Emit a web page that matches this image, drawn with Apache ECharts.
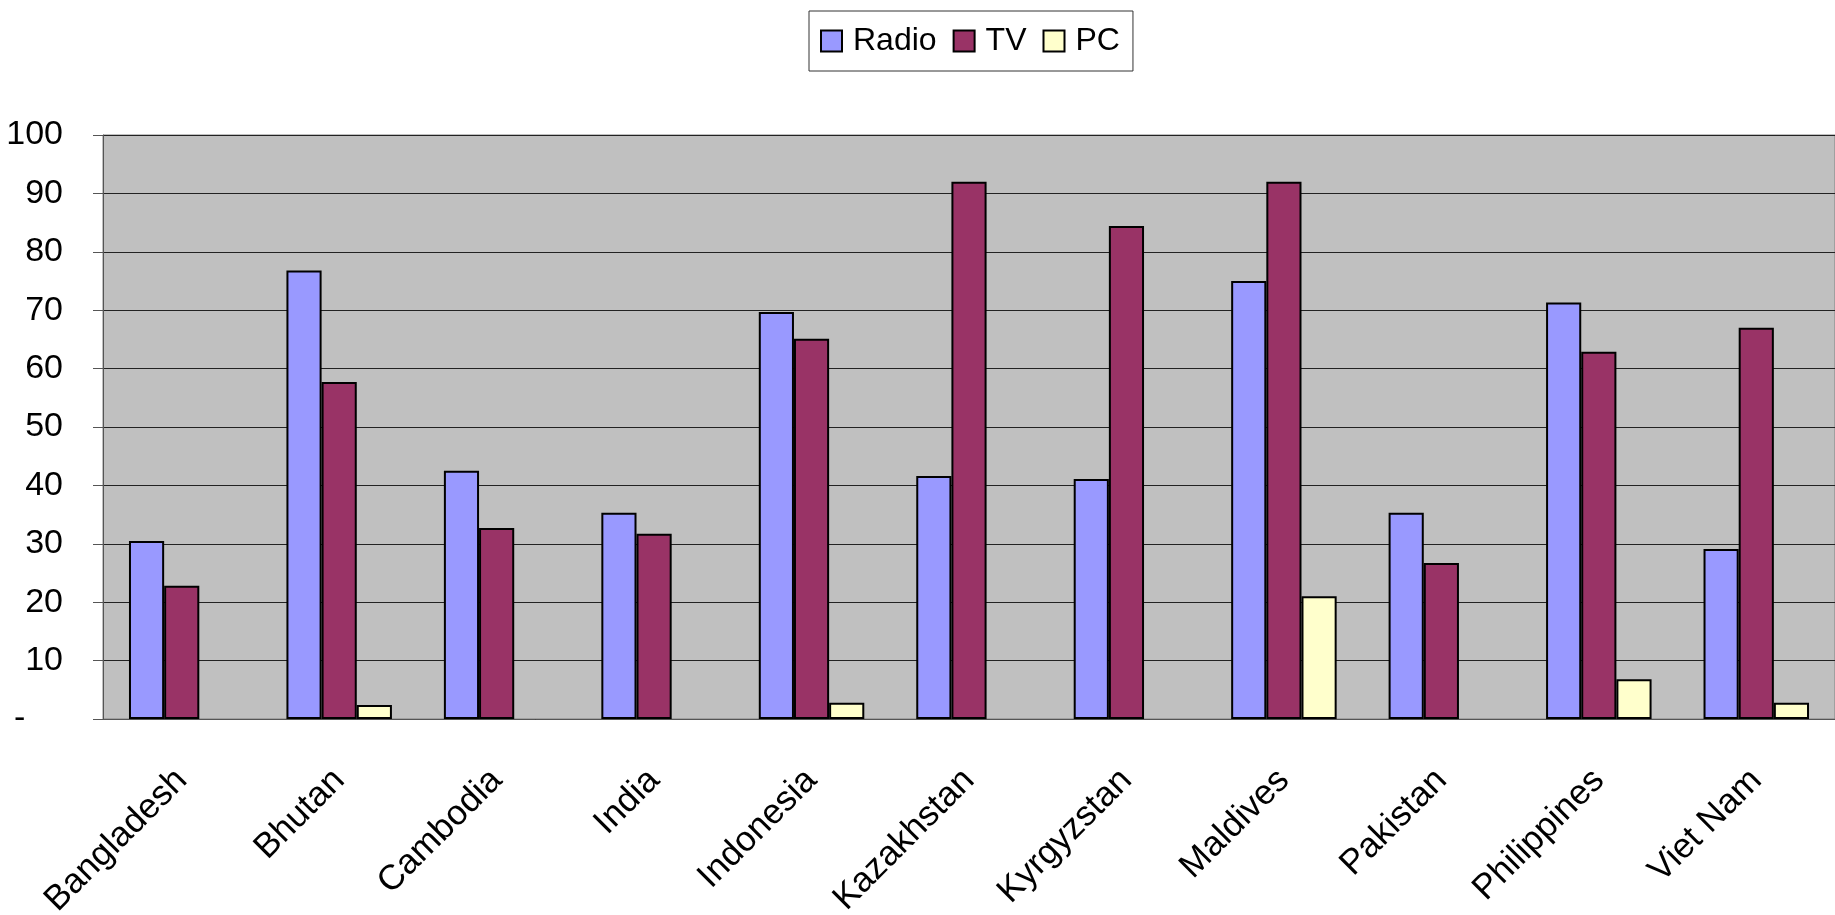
<!DOCTYPE html>
<html>
<head>
<meta charset="utf-8">
<script src="https://cdn.jsdelivr.net/npm/echarts@6/dist/echarts.min.js"></script>
<style>
  html, body { margin: 0; padding: 0; background: #fff; }
  #chart { width: 1835px; height: 915px; }
</style>
</head>
<body>
<div id="chart"></div>
<script>
// data (null = no bar drawn)
const countries = ['Bangladesh', 'Bhutan', 'Cambodia', 'India', 'Indonesia', 'Kazakhstan',
  'Kyrgyzstan', 'Maldives', 'Pakistan', 'Philippines', 'Viet Nam'];
const radio = [30.5, 76.8, 42.5, 35.3, 69.7, 41.6, 41.1, 75.0, 35.3, 71.3, 29.1];
const tv = [22.8, 57.7, 32.7, 31.7, 65.1, 92.0, 84.4, 92.0, 26.7, 62.9, 67.0];
const pc = [null, 2.4, null, null, 2.8, null, null, 21.0, null, 6.8, 2.8];
const seriesNames = ['Radio', 'TV', 'PC'];
const colors = ['#9999FF', '#993366', '#FFFFCC'];

const font = 'Liberation Sans, Arial, sans-serif';
const chart = echarts.init(document.getElementById('chart'));

function makeBar(name, values, color) {
  return {
    name: name,
    type: 'bar',
    data: values,
    barGap: '0%',
    barCategoryGap: '33%',
    itemStyle: { color: color, borderColor: '#000', borderWidth: 2 },
    emphasis: { disabled: true }
  };
}

const option = {
  animation: false,
  textStyle: { fontFamily: font },
  legend: {
    left: 809,
    top: 11,
    icon: 'rect',
    itemWidth: 21,
    itemHeight: 21,
    itemGap: 16,
    padding: [14, 13, 14, 11],
    borderColor: '#333',
    borderWidth: 1,
    itemStyle: { borderColor: '#000', borderWidth: 2 },
    textStyle: { fontSize: 32, color: '#000', fontFamily: font, padding: [0, 0, 0, 6] },
    data: seriesNames
  },
  grid: {
    left: 103,
    right: 0,
    top: 135,
    bottom: 196,
    containLabel: false,
    outerBoundsMode: 'none',
    show: true,
    backgroundColor: '#C0C0C0',
    borderColor: '#808080',
    borderWidth: 1
  },
  xAxis: {
    type: 'category',
    data: countries,
    axisLine: { lineStyle: { color: '#555', width: 1 } },
    axisTick: { length: 10, lineStyle: { color: '#555' } },
    axisLabel: {
      rotate: 45,
      fontSize: 35,
      color: '#000',
      fontFamily: font,
      margin: 56,
      interval: 0
    }
  },
  yAxis: {
    type: 'value',
    min: 0,
    max: 100,
    interval: 10,
    axisLine: { show: true, lineStyle: { color: '#555', width: 1 } },
    axisTick: { show: true, length: 10, lineStyle: { color: '#555' } },
    splitLine: { lineStyle: { color: '#222', width: 1 } },
    axisLabel: {
      fontSize: 34,
      color: '#000',
      fontFamily: font,
      margin: 40,
      formatter: function (v) { return v === 0 ? '-    ' : String(v); }
    }
  },
  series: [
    makeBar(seriesNames[0], radio, colors[0]),
    makeBar(seriesNames[1], tv, colors[1]),
    makeBar(seriesNames[2], pc, colors[2])
  ]
};

chart.setOption(option);
</script>
</body>
</html>
